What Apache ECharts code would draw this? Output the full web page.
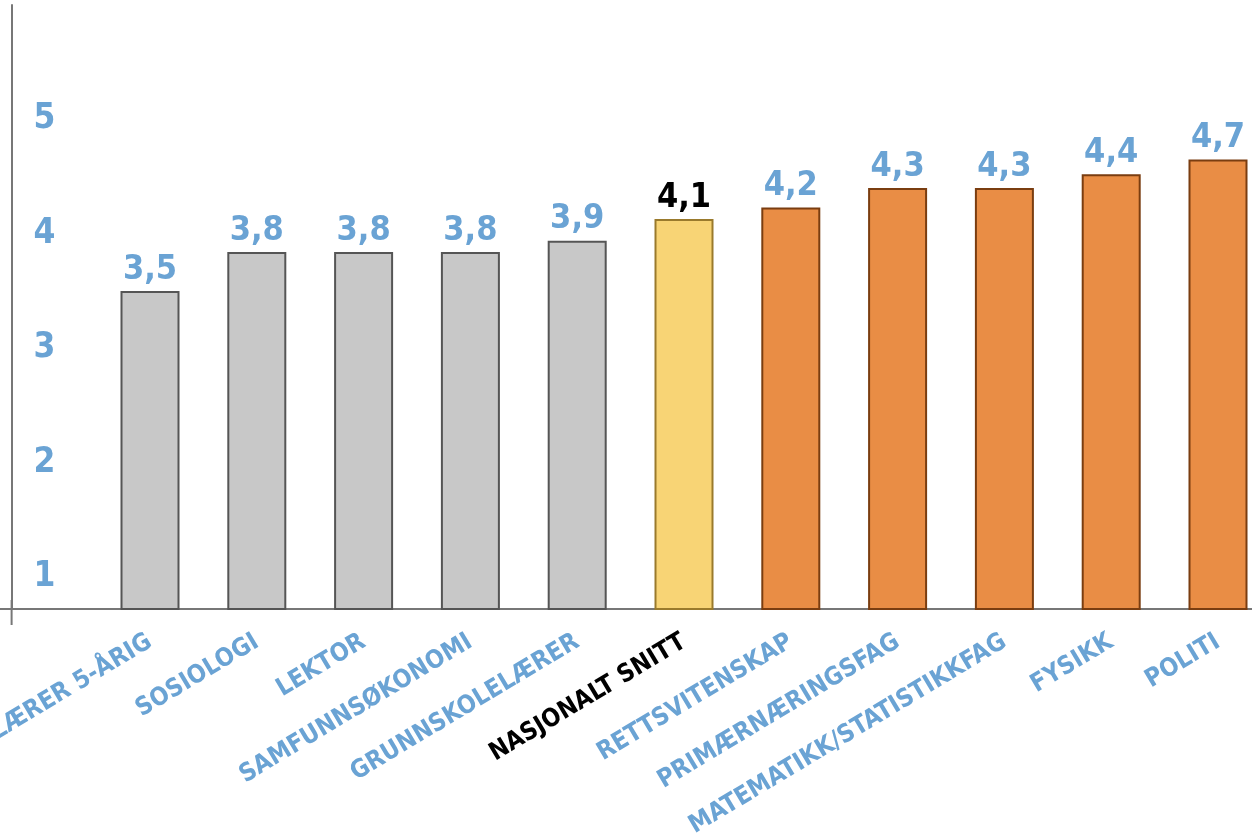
<!DOCTYPE html>
<html>
<head>
<meta charset="utf-8">
<script src="https://cdn.jsdelivr.net/npm/echarts@6/dist/echarts.min.js"></script>
<style>html,body{margin:0;padding:0;background:#fff;}#c{width:1252px;height:835px;}</style>
</head>
<body>
<div id="c"></div>
<script>
const categories = ['LÆRER 5-ÅRIG','SOSIOLOGI','LEKTOR','SAMFUNNSØKONOMI','GRUNNSKOLELÆRER','NASJONALT SNITT','RETTSVITENSKAP','PRIMÆRNÆRINGSFAG','MATEMATIKK/STATISTIKKFAG','FYSIKK','POLITI'];
const values = [3.5, 3.84, 3.84, 3.84, 3.94, 4.13, 4.23, 4.40, 4.40, 4.52, 4.65];
const valueLabels = ['3,5','3,8','3,8','3,8','3,9','4,1','4,2','4,3','4,3','4,4','4,7'];
const groups = ['low','low','low','low','low','avg','high','high','high','high','high'];
const yTicks = [1, 2, 3, 4, 5];

const FONT = "'Liberation Sans Narrow','DejaVu Sans Condensed',sans-serif";
const BLUE = '#6aa3d4';
const styles = {
  low:  {color:'#c8c8c8', borderColor:'#555555', text: BLUE},
  avg:  {color:'#f8d475', borderColor:'#9a7a2c', text: '#000000'},
  high: {color:'#e98d45', borderColor:'#7a3d10', text: BLUE}
};

const chart = echarts.init(document.getElementById('c'), null, {renderer:'canvas'});
const data = values.map((v,i)=>({
  value: v,
  itemStyle: {color: styles[groups[i]].color, borderColor: styles[groups[i]].borderColor, borderWidth: 2},
  label: {color: styles[groups[i]].text}
}));

chart.setOption({
  animation: false,
  grid: {left: 96.6, right: -19.4, top: 5, bottom: 226, containLabel: false, outerBoundsMode: 'none'},
  xAxis: {
    type: 'category',
    data: categories,
    axisLine: {show: true, lineStyle: {color: '#777', width: 2}},
    axisTick: {show: false},
    axisLabel: {
      interval: 0, rotate: 31, margin: 31,
      fontFamily: FONT, fontWeight: 'bold', fontSize: 25,
      color: (val, idx) => styles[groups[idx]].text
    }
  },
  yAxis: {
    type: 'value', min: 0.72, max: 6, offset: 85,
    splitLine: {show: false},
    axisLine: {show: true, lineStyle: {color: '#777', width: 2}},
    axisTick: {show: false},
    axisLabel: {
      inside: true, margin: 22, align: 'left',
      fontFamily: FONT, fontWeight: 'bold', fontSize: 35, color: BLUE,
      showMinLabel: false, showMaxLabel: false,
      formatter: v => yTicks.includes(v) ? String(v) : ''
    }
  },
  series: [{
    type: 'bar',
    data: data,
    barWidth: 59,
    label: {
      show: true, position: 'top', distance: 4,
      fontFamily: FONT, fontWeight: 'bold', fontSize: 34,
      formatter: p => valueLabels[p.dataIndex]
    }
  }],
  graphic: [
    {type:'line', shape:{x1:0, y1:609, x2:97, y2:609}, style:{stroke:'#777', lineWidth:2}},
    {type:'line', shape:{x1:11.6, y1:600, x2:11.6, y2:625}, style:{stroke:'#777', lineWidth:2}}
  ]
});
</script>
</body>
</html>
